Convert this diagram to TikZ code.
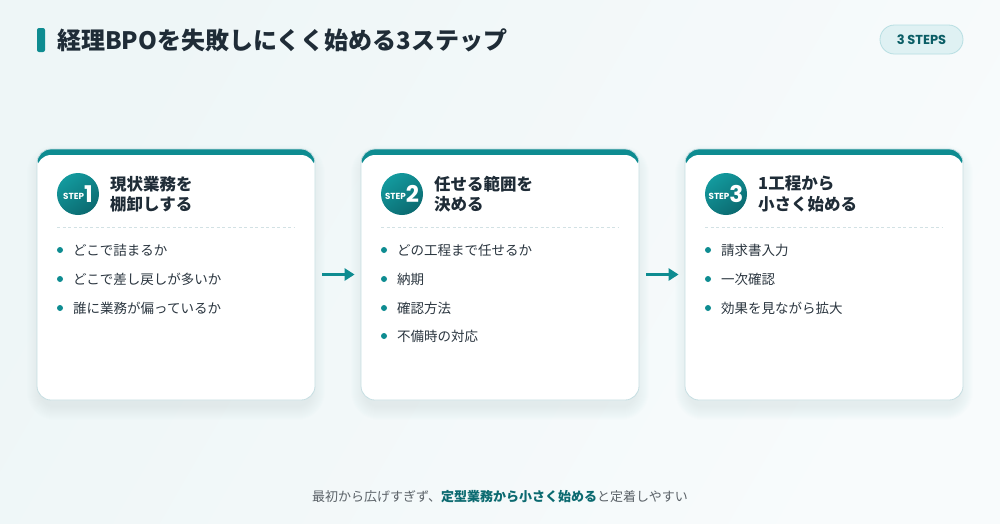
\documentclass[tikz,border=0pt]{standalone}
\usepackage{fontspec}
\setmainfont{Noto Sans CJK JP}
\newfontfamily\latinfont{Poppins}
\usetikzlibrary{arrows.meta}

\definecolor{brand}{HTML}{0E8C91}
\definecolor{branddark}{HTML}{0B6A70}
\definecolor{brandlight}{HTML}{139A9E}
\definecolor{ink}{HTML}{1F2C37}
\definecolor{bodyink}{HTML}{2B3640}
\definecolor{muted}{HTML}{5B6268}
\definecolor{cardline}{HTML}{C6DEE2}
\definecolor{rule}{HTML}{D2E1E4}
\definecolor{pillfill}{HTML}{DFF1F3}
\definecolor{pillline}{HTML}{B7DEE2}
\definecolor{pilltext}{HTML}{0B5E66}
\definecolor{bgA}{HTML}{EEF6F7}
\definecolor{bgB}{HTML}{F8FBFC}
\definecolor{shadowtint}{HTML}{6E9CA2}

\newcommand\stepmark[1]{%
  \raisebox{3.2pt}{\latinfont\bfseries\fontsize{8.8}{9}\selectfont STEP}%
  \hspace{0pt}{\latinfont\bfseries\fontsize{23}{23}\selectfont #1}}

% soft drop shadow under a card: stacked translucent rounded rectangles
\newcommand\cardshadow[4]{%
  \foreach \g in {1,...,14}{%
    \fill[shadowtint, opacity=0.007, rounded corners=14pt+\g pt]
      (#1+4-\g,#2+10-\g) rectangle (#3-4+\g,#4+6+\g);
  }}

\tikzset{
  card/.style={draw=cardline, line width=0.8pt, fill=white,
    rounded corners=14pt, minimum width=278pt, minimum height=251pt,
    inner sep=0pt,
    path picture={
      \fill[brand] (path picture bounding box.north west) rectangle
        ([yshift=-22pt]path picture bounding box.north east);
      \fill[white, rounded corners=14pt]
        ([yshift=-6pt]path picture bounding box.north west) rectangle
        (path picture bounding box.south east);
    }},
  stepcircle/.style={circle, minimum size=42pt, inner sep=0pt,
    top color=brandlight, bottom color=branddark, shading angle=35,
    text=white},
  cardtitle/.style={font=\bfseries\fontsize{16.5}{20.5}\selectfont,
    align=left, text=ink, inner sep=0pt, anchor=west},
  divider/.style={draw=rule, line width=0.8pt, dash pattern=on 3pt off 2.5pt},
  item/.style={font=\fontsize{13.5}{15}\selectfont, text=bodyink,
    inner sep=0pt, anchor=west},
  dot/.style={fill=brand},
  flow/.style={draw=brand, line width=2.6pt,
    -{Triangle[length=10pt,width=12pt]}},
  pill/.style={draw=pillline, line width=0.8pt, fill=pillfill,
    rounded corners=14.5pt, minimum width=83pt, minimum height=29pt,
    inner sep=0pt, text=pilltext,
    font=\latinfont\bfseries\fontsize{13}{15}\selectfont},
}

\begin{document}
\begin{tikzpicture}[x=1pt,y=-1pt]
  % page background
  \useasboundingbox (0,0) rectangle (1000,523);
  \shade[left color=bgA, right color=bgB, shading angle=60]
    (0,0) rectangle (1000,523);

  % heading
  \fill[brand, rounded corners=2pt] (37,28) rectangle (45,52);
  \node[anchor=west, inner sep=0pt, text=ink,
    font=\bfseries\fontsize{24}{26}\selectfont] (heading) at (57,40)
    {経理BPOを失敗しにくく始める3ステップ};
  \node[pill] (badge) at (921.5,39.5) {3 STEPS};

  % card shadows
  \cardshadow{37}{149}{315}{400}
  \cardshadow{361}{149}{639}{400}
  \cardshadow{685}{149}{963}{400}

  % cards
  \node[card] (card1) at (176,274.5) {};
  \node[card] (card2) at (500,274.5) {};
  \node[card] (card3) at (824,274.5) {};

  % step 1
  \node[stepcircle] (s1) at (78,194) {\stepmark{1}};
  \node[cardtitle] (t1) at (110,194) {現状業務を\\棚卸しする};
  \draw[divider] (57,227) -- (295,227);
  \fill[dot] (60,250) circle (3pt);
  \node[item] (i11) at (73,250) {どこで詰まるか};
  \fill[dot] (60,279) circle (3pt);
  \node[item] (i12) at (73,279) {どこで差し戻しが多いか};
  \fill[dot] (60,308) circle (3pt);
  \node[item] (i13) at (73,308) {誰に業務が偏っているか};

  % step 2
  \node[stepcircle] (s2) at (402,194) {\stepmark{2}};
  \node[cardtitle] (t2) at (434,194) {任せる範囲を\\決める};
  \draw[divider] (381,227) -- (619,227);
  \fill[dot] (384,250) circle (3pt);
  \node[item] (i21) at (397,250) {どの工程まで任せるか};
  \fill[dot] (384,279) circle (3pt);
  \node[item] (i22) at (397,279) {納期};
  \fill[dot] (384,308) circle (3pt);
  \node[item] (i23) at (397,308) {確認方法};
  \fill[dot] (384,336) circle (3pt);
  \node[item] (i24) at (397,336) {不備時の対応};

  % step 3
  \node[stepcircle] (s3) at (726,194) {\stepmark{3}};
  \node[cardtitle] (t3) at (758,194) {1工程から\\小さく始める};
  \draw[divider] (705,227) -- (943,227);
  \fill[dot] (708,250) circle (3pt);
  \node[item] (i31) at (721,250) {請求書入力};
  \fill[dot] (708,279) circle (3pt);
  \node[item] (i32) at (721,279) {一次確認};
  \fill[dot] (708,308) circle (3pt);
  \node[item] (i33) at (721,308) {効果を見ながら拡大};

  % flow arrows between cards
  \draw[flow] ([xshift=7pt]card1.east) -- ([xshift=-6pt]card2.west);
  \draw[flow] ([xshift=7pt]card2.east) -- ([xshift=-6pt]card3.west);

  % closing note
  \node[inner sep=0pt, text=muted, font=\fontsize{13}{15}\selectfont]
    (note) at (500,497)
    {最初から広げすぎず、{\bfseries\color{branddark}定型業務から小さく始める}と定着しやすい};
\end{tikzpicture}
\end{document}
